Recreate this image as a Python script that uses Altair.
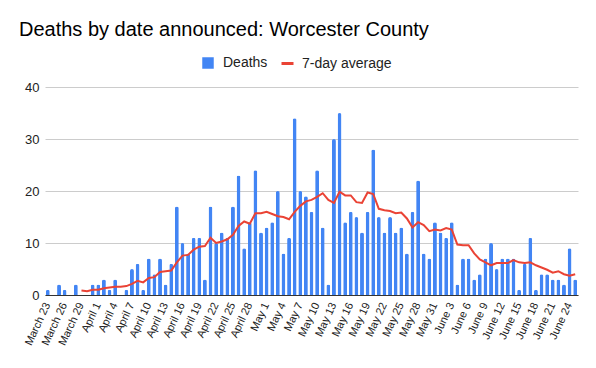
import altair as alt
import pandas as pd

dates = ([f"March {d}" for d in range(23, 32)]
         + [f"April {d}" for d in range(1, 31)]
         + [f"May {d}" for d in range(1, 32)]
         + [f"June {d}" for d in range(1, 26)])

deaths = [1, 0, 2, 1, 0, 2, 0, 0, 2,
          2, 3, 1, 3, 0, 1, 5, 6, 1, 7, 4, 7, 2, 6, 17, 10, 8, 11, 11, 3, 17, 10, 12, 11, 17, 23, 9, 14, 24, 12,
          13, 14, 20, 8, 11, 34, 20, 19, 16, 24, 13, 2, 30, 35, 14, 16, 15, 12, 16, 28, 15, 12, 15, 12, 13, 8, 16, 22, 8, 7, 14,
          12, 11, 14, 2, 7, 7, 3, 4, 7, 10, 5, 7, 7, 7, 1, 6, 11, 1, 4, 4, 3, 3, 2, 9, 3]

tick_labels = dates[::3]
y_ticks = [0, 10, 20, 30, 40]

df = pd.DataFrame({"date": dates, "deaths": deaths, "idx": list(range(len(dates)))})
df["s1"] = "Deaths"
df["s2"] = "7-day average"

FONT = "Liberation Sans"

x = alt.X("date:N", sort=dates, title=None,
          scale=alt.Scale(paddingInner=0.3, paddingOuter=0.15),
          axis=alt.Axis(values=tick_labels, labelAngle=-65, labelFontSize=11,
                        labelFont=FONT, labelColor="#222222", ticks=False,
                        domainColor="#333333", domainWidth=1, labelPadding=8))
y = alt.Y("deaths:Q", title=None,
          scale=alt.Scale(domain=[0, 40]),
          axis=alt.Axis(values=y_ticks, labelFontSize=13, labelFont=FONT,
                        labelColor="#222222", ticks=False, domain=False,
                        gridColor="#cccccc", labelPadding=6,
                        minExtent=26, maxExtent=26))

base = alt.Chart(df)

bars = base.mark_bar(cornerRadiusTopLeft=2, cornerRadiusTopRight=2).encode(
    x=x, y=y,
    color=alt.Color("s1:N", scale=alt.Scale(domain=["Deaths"], range=["#4285F4"]),
                    legend=alt.Legend(orient="none", legendX=156, legendY=-31, title=None,
                                      symbolType="square", symbolSize=132,
                                      labelFontSize=14, labelFont=FONT, labelColor="#222222",
                                      labelOffset=8, padding=0)),
)

line = base.transform_window(
    avg="mean(deaths)", frame=[-6, 0], sort=[alt.SortField("idx")]
).transform_filter("datum.idx >= 6").mark_line(strokeWidth=2).encode(
    x=alt.X("date:N", sort=dates),
    y=alt.Y("avg:Q"),
    color=alt.Color("s2:N", scale=alt.Scale(domain=["7-day average"], range=["#EA4335"]),
                    legend=alt.Legend(orient="none", legendX=235, legendY=-31, title=None,
                                      symbolType="stroke", symbolSize=144, symbolStrokeWidth=3,
                                      labelFontSize=14, labelFont=FONT, labelColor="#222222",
                                      labelOffset=7, padding=0)),
)

chart = alt.layer(bars, line).resolve_scale(color="independent").resolve_legend(
    color="independent"
).properties(
    width=533, height=208,
    padding={"left": 11, "top": 12, "right": 5, "bottom": 5},
    title=alt.TitleParams("Deaths by date announced: Worcester County", anchor="start",
                          frame="group", dx=-26, fontSize=20, font=FONT,
                          fontWeight="normal", color="#000000", offset=16),
).configure_view(stroke=None)

chart.save("out.html", embed_options={"renderer": "svg", "actions": False})
